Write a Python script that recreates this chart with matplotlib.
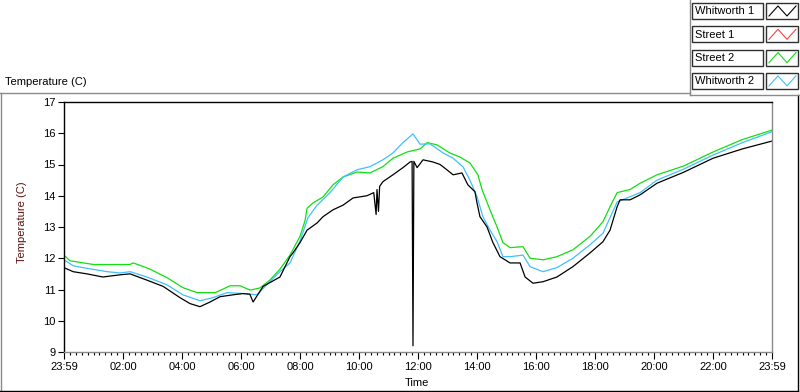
import matplotlib
matplotlib.use("Agg")
import matplotlib.pyplot as plt
from matplotlib.lines import Line2D
from matplotlib.patches import Rectangle

plt.rcParams['font.family'] = ['Liberation Sans', 'DejaVu Sans']

# 시리즈 데이터 (hours since 23:59, temperature in C)
street2_h = [0, 0.2, 1.0, 2.24, 2.34, 2.5, 2.92, 3.49, 4.03, 4.51, 5.12, 5.36, 5.63, 5.97,
             6.31, 6.64, 6.98, 7.32, 7.66, 8.0, 8.17, 8.24, 8.44, 8.78, 9.12, 9.46, 9.93,
             10.37, 10.81, 11.15, 11.63, 12.07, 12.31, 12.64, 13.08, 13.42, 13.76, 14.03,
             14.17, 14.44, 14.68, 14.88, 15.12, 15.56, 15.8, 16.24, 16.71, 17.25, 17.83,
             18.27, 18.51, 18.75, 19.19, 19.53, 20.1, 21.0, 22.0, 23.0, 24.0]
street2_t = [12.1, 11.92, 11.8, 11.8, 11.85, 11.8, 11.65, 11.38, 11.06, 10.9, 10.9, 11.0, 11.12,
             11.12, 10.98, 11.05, 11.3, 11.65, 12.1, 12.7, 13.2, 13.6, 13.77, 13.96, 14.35, 14.6,
             14.76, 14.73, 14.93, 15.2, 15.4, 15.5, 15.7, 15.63, 15.37, 15.24, 15.05, 14.67,
             14.2, 13.55, 13.0, 12.5, 12.34, 12.37, 12.0, 11.95, 12.05, 12.27, 12.7, 13.17,
             13.65, 14.1, 14.2, 14.4, 14.67, 14.95, 15.4, 15.8, 16.1]

whit2_h = [0, 0.31, 0.64, 1.46, 1.9, 2.24, 2.81, 3.49, 4.03, 4.61, 5.05, 5.53, 6.07, 6.54,
           6.98, 7.32, 7.66, 8.0, 8.27, 8.58, 9.02, 9.46, 9.93, 10.37, 10.81, 11.15, 11.49,
           11.83, 12.07, 12.41, 12.85, 13.19, 13.53, 13.76, 14.0, 14.2, 14.44, 14.68, 14.88,
           15.12, 15.56, 15.8, 16.24, 16.71, 17.25, 17.83, 18.27, 18.51, 18.75, 19.19, 19.53,
           20.1, 21.0, 22.0, 23.0, 24.0]
whit2_t = [11.95, 11.76, 11.7, 11.57, 11.53, 11.57, 11.4, 11.15, 10.83, 10.64, 10.74, 10.9,
           10.87, 10.83, 11.25, 11.57, 11.85, 12.55, 13.3, 13.7, 14.1, 14.6, 14.83, 14.93,
           15.15, 15.37, 15.7, 15.98, 15.65, 15.66, 15.37, 15.2, 14.92, 14.5, 13.97, 13.33,
           12.9, 12.53, 12.05, 12.05, 12.1, 11.73, 11.57, 11.7, 12.0, 12.43, 12.8, 13.3, 13.8,
           13.97, 14.1, 14.5, 14.85, 15.3, 15.7, 16.05]

whit1_h = [0, 0.31, 0.78, 1.32, 1.9, 2.24, 2.81, 3.36, 3.93, 4.27, 4.61, 4.95, 5.29, 5.73,
           6.07, 6.3, 6.41, 6.75, 7.32, 7.66, 7.76, 8.0, 8.24, 8.58, 8.78, 9.12, 9.46, 9.8,
           10.27, 10.5, 10.58, 10.61, 10.66, 10.7, 10.81, 11.15, 11.49, 11.73, 11.8, 11.83,
           11.86, 11.97, 12.17, 12.51, 12.75, 12.98, 13.19, 13.49, 13.69, 13.93, 14.0, 14.1,
           14.34, 14.54, 14.78, 15.12, 15.46, 15.63, 15.9, 16.24, 16.71, 17.25, 17.83, 18.27,
           18.51, 18.75, 18.85, 19.19, 19.53, 20.1, 21.0, 22.0, 23.0, 24.0]
whit1_t = [11.7, 11.57, 11.5, 11.4, 11.47, 11.5, 11.3, 11.1, 10.74, 10.55, 10.45, 10.6, 10.77,
           10.83, 10.87, 10.85, 10.6, 11.1, 11.4, 12.05, 12.17, 12.5, 12.9, 13.13, 13.33, 13.55,
           13.7, 13.93, 14.0, 14.1, 13.4, 14.2, 13.5, 14.3, 14.45, 14.67, 14.9, 15.08, 15.1,
           9.2, 15.1, 14.9, 15.15, 15.08, 15.0, 14.83, 14.67, 14.73, 14.35, 14.13, 13.77, 13.33,
           13.0, 12.5, 12.05, 11.85, 11.85, 11.4, 11.2, 11.25, 11.4, 11.73, 12.17, 12.53, 12.9,
           13.65, 13.87, 13.87, 14.03, 14.4, 14.75, 15.2, 15.5, 15.75]

legend_names = ["Whitworth 1", "Street 1", "Street 2", "Whitworth 2"]
legend_colors = ["#000000", "#ff4040", "#10e010", "#40bfff"]
tick_hours = [0, 2, 4, 6, 8, 10, 12, 14, 16, 18, 20, 22, 24]
tick_labels = ["23:59", "02:00", "04:00", "06:00", "08:00", "10:00", "12:00",
               "14:00", "16:00", "18:00", "20:00", "22:00", "23:59"]

W, H = 800, 392


def px(x, y):
    return x / W, 1 - y / H


fig = plt.figure(figsize=(8, 3.92), dpi=100)
ax = fig.add_axes([64 / W, 1 - 352 / H, 708 / W, 250 / H])

ax.plot(street2_h, street2_t, color=legend_colors[2], lw=0.9)
ax.plot(whit2_h, whit2_t, color=legend_colors[3], lw=0.9)
ax.plot(whit1_h, whit1_t, color=legend_colors[0], lw=0.9)

ax.set_xlim(0, 24)
ax.set_ylim(9, 17)
ax.set_yticks(range(9, 18))
ax.set_xticks(tick_hours)
ax.set_xticklabels(tick_labels)
ax.set_xticks([i * 0.2 for i in range(121)], minor=True)
ax.tick_params(axis='y', length=4, width=0.8, labelsize=8, pad=2)
ax.tick_params(axis='x', which='major', length=5, width=0.8, labelsize=8, pad=2)
ax.tick_params(axis='x', which='minor', length=2.5, width=0.8)
ax.spines['left'].set_color('black')
ax.spines['top'].set_color('black')
ax.spines['bottom'].set_color('#8a8a8a')
ax.spines['right'].set_color('#8a8a8a')
for s in ax.spines.values():
    s.set_linewidth(1.0)

# 라벨
fig.text(*px(5, 82), "Temperature (C)", fontsize=8, va='center', ha='left')
fig.text(*px(22, 222), "Temperature (C)", fontsize=8, rotation=90,
         va='center', ha='center', color='#5a1010')
fig.text(*px(405, 383), "Time", fontsize=8, va='center', ha='left')

# 패널 테두리
def hline(x0, x1, y, c):
    fig.add_artist(Line2D([x0 / W, x1 / W], [1 - y / H, 1 - y / H], color=c, lw=1,
                          transform=fig.transFigure))


def vline(x, y0, y1, c):
    fig.add_artist(Line2D([x / W, x / W], [1 - y0 / H, 1 - y1 / H], color=c, lw=1,
                          transform=fig.transFigure))


hline(0, 690, 93, '#8a8a8a')
vline(0.5, 93, 391, '#8a8a8a')
hline(0, 798, 391, 'black')
vline(797.5, 95, 391, 'black')
vline(689.5, 0, 95, '#8a8a8a')
hline(690, 800, 95, '#8a8a8a')

# 범례
for i, (name, c) in enumerate(zip(legend_names, legend_colors)):
    top = 3 + 23.3 * i
    x0, y0 = px(692, top + 16)
    fig.add_artist(Rectangle((x0, y0), 71 / W, 16 / H, transform=fig.transFigure,
                             facecolor='white', edgecolor='#303030', lw=1))
    fig.text(*px(695, top + 8.5), name, fontsize=8, va='center', ha='left')
    sx, sy = px(766, top + 16)
    fig.add_artist(Rectangle((sx, sy), 32 / W, 16 / H, transform=fig.transFigure,
                             facecolor='white', edgecolor='#303030', lw=1))
    zx = [769, 778, 787, 796]
    zy = [top + 13, top + 3, top + 13, top + 3]
    fig.add_artist(Line2D([v / W for v in zx], [1 - v / H for v in zy], color=c, lw=0.8,
                          transform=fig.transFigure))

plt.savefig("out.png", dpi=100, facecolor='white')
